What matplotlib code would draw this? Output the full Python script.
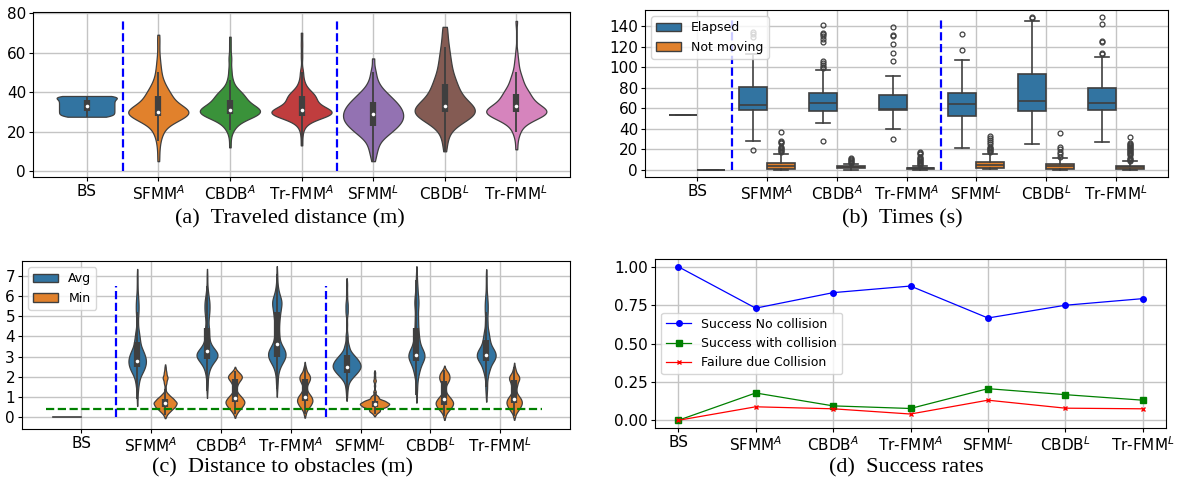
import numpy as np
import matplotlib
matplotlib.use("Agg")
import matplotlib.pyplot as plt
from matplotlib import mlab
from matplotlib.patches import Patch

methods = ["BS", "SFMM$^A$", "CBDB$^A$", "Tr-FMM$^A$", "SFMM$^L$", "CBDB$^L$", "Tr-FMM$^L$"]

# (a) traveled distance, values (m) and how often they show up
trav_vals = [
    [27.5, 28.5, 29.5, 30.5, 31.5, 32.5, 33.5, 34.5, 35.5, 36.5, 37.5, 38.0],
    [5, 10, 15, 20, 25, 28, 30, 32, 35, 38, 41, 45, 50, 55, 60, 65, 69],
    [12, 17, 21, 24, 27, 29, 31, 33, 36, 39, 42, 46, 51, 57, 63, 68],
    [13, 18, 22, 25, 28, 30, 32, 35, 38, 41, 45, 50, 58, 64, 70],
    [5, 9, 13, 17, 20, 23, 26, 29, 32, 35, 38, 41, 45, 50, 57],
    [10, 15, 20, 24, 27, 30, 33, 36, 40, 44, 48, 53, 58, 63, 68, 73],
    [11, 16, 20, 24, 27, 30, 33, 36, 39, 42, 46, 50, 55, 60, 76],
]
trav_counts = [
    [3, 3, 3, 3, 3, 3, 3, 3, 3, 3, 3, 3],
    [1, 1, 2, 5, 12, 14, 18, 12, 10, 8, 7, 5, 3, 2, 1, 1, 1],
    [1, 1, 3, 6, 12, 18, 18, 14, 13, 11, 5, 3, 2, 2, 1, 1],
    [1, 1, 2, 5, 18, 22, 12, 11, 12, 6, 3, 2, 1, 1, 1],
    [1, 2, 3, 5, 8, 11, 13, 13, 12, 10, 7, 5, 3, 2, 1],
    [1, 2, 3, 6, 12, 18, 12, 10, 9, 7, 6, 5, 4, 3, 2, 2],
    [1, 1, 3, 5, 12, 24, 12, 9, 8, 6, 5, 3, 2, 1, 1],
]

# (b) times (s): box stats
elapsed_med = [53.5, 62.8, 65.0, 59.8, 64.7, 67.6, 65.0]
elapsed_q1 = [53.5, 58.3, 57.3, 58.6, 52.1, 57.0, 58.6]
elapsed_q3 = [53.5, 81.1, 74.7, 73.4, 75.3, 93.3, 79.8]
elapsed_lo = [53.5, 27.7, 45.4, 39.6, 21.2, 25.4, 26.7]
elapsed_hi = [53.5, 113.5, 97.5, 92.0, 106.9, 144.8, 110.0]
elapsed_fliers = [[], [19.6, 129.5, 132.5, 135.0],
                  [28.5, 99.5, 100.5, 102, 104, 106.5, 125, 128, 131, 132.5, 133.5, 141],
                  [30.5, 106, 114, 123, 131, 132, 139], [116.5, 133], [148, 149],
                  [113.5, 114.5, 124.5, 126, 142, 149]]
idle_med = [0, 3.5, 2.5, 1.3, 4.5, 3.5, 2.8]
idle_q1 = [0, 1.0, 1.5, 0.5, 2.0, 1.0, 1.0]
idle_q3 = [0, 7.1, 3.5, 2.0, 7.5, 5.5, 4.0]
idle_lo = [0, 0, 0.3, 0, 0.5, 0, 0]
idle_hi = [0, 15.4, 5.5, 4.0, 15.5, 11.5, 8.5]
idle_fliers = [[], [17, 18, 19, 20, 21, 22, 26, 27, 28, 37], [7, 8, 9, 10, 11, 12],
               [5, 6, 7, 8, 9, 10, 11, 12, 13, 15, 16, 17],
               [17, 18, 19, 20, 21, 22, 25, 27, 29, 31, 33], [13, 15, 17, 20, 22.5, 36],
               [9, 10, 11, 12, 14, 15, 16, 17, 18, 19, 20, 21, 22, 23, 24, 25, 26, 32]]

# (c) distance to obstacles (m), avg and min per run
avg_vals = [
    [0.0],
    [0.9, 1.4, 1.8, 2.2, 2.5, 2.8, 3.1, 3.4, 3.8, 4.2, 4.7, 5.2, 5.6, 6.0, 6.5, 7.0],
    [1.3, 1.7, 2.2, 2.6, 2.9, 3.1, 3.3, 3.6, 4.0, 4.4, 4.9, 5.3, 5.7, 6.1, 6.5, 7.0],
    [1.4, 1.8, 2.3, 2.7, 3.0, 3.3, 3.6, 4.0, 4.4, 4.8, 5.2, 5.6, 5.9, 6.3, 6.7, 7.1],
    [1.1, 1.5, 1.9, 2.2, 2.5, 2.8, 3.1, 3.5, 4.0, 4.6, 5.2, 5.6, 6.1, 6.6],
    [1.1, 1.5, 2.0, 2.4, 2.8, 3.1, 3.4, 3.8, 4.2, 4.6, 5.0, 5.5, 5.9, 6.4, 6.8, 7.1],
    [1.1, 1.5, 2.0, 2.4, 2.8, 3.1, 3.4, 3.8, 4.2, 4.7, 5.2, 5.6, 6.0, 6.5, 7.0],
]
avg_counts = [
    [5],
    [1, 2, 4, 9, 13, 15, 12, 8, 6, 4, 2, 3, 3, 2, 1, 1],
    [1, 2, 4, 9, 14, 16, 12, 7, 5, 5, 4, 6, 6, 3, 1, 1],
    [1, 2, 4, 9, 15, 14, 6, 5, 4, 5, 7, 9, 7, 3, 1, 1],
    [1, 2, 6, 14, 20, 16, 9, 4, 2, 1, 2, 2, 1, 1],
    [1, 2, 4, 8, 14, 17, 10, 7, 5, 4, 4, 5, 5, 3, 1, 1],
    [1, 2, 3, 7, 13, 16, 11, 7, 5, 3, 3, 3, 2, 1, 1],
]
min_vals = [
    [],
    [0.1, 0.3, 0.5, 0.7, 0.9, 1.1, 1.4, 1.7, 1.95, 2.2, 2.45],
    [0.15, 0.35, 0.55, 0.75, 0.95, 1.15, 1.45, 1.7, 1.9, 2.05, 2.2, 2.3],
    [0.15, 0.4, 0.6, 0.8, 1.0, 1.2, 1.45, 1.7, 1.9, 2.1, 2.35, 2.55],
    [0.15, 0.3, 0.5, 0.65, 0.8, 1.0, 1.25, 1.55, 1.8, 2.0, 2.2],
    [0.05, 0.3, 0.5, 0.7, 0.9, 1.1, 1.4, 1.7, 1.9, 2.1, 2.25, 2.35],
    [0.05, 0.3, 0.5, 0.7, 0.9, 1.1, 1.35, 1.6, 1.85, 2.05, 2.3, 2.5],
]
min_counts = [
    [],
    [2, 7, 13, 16, 11, 5, 1, 2, 4, 2, 1],
    [2, 6, 11, 14, 10, 5, 3, 5, 8, 8, 4, 1],
    [2, 5, 10, 13, 11, 6, 4, 6, 9, 8, 3, 1],
    [2, 8, 16, 20, 14, 6, 2, 1, 2, 1, 1],
    [2, 6, 11, 14, 10, 5, 3, 5, 8, 7, 3, 1],
    [2, 6, 10, 13, 11, 6, 4, 6, 9, 8, 3, 1],
]
safety_dist = 0.37

# (d) success rates
success_clean = [1.0, 0.730, 0.831, 0.874, 0.666, 0.749, 0.792]
success_coll = [0.0, 0.178, 0.094, 0.077, 0.206, 0.167, 0.131]
failure_coll = [0.0, 0.088, 0.075, 0.041, 0.131, 0.079, 0.075]

GRAY = "#3f3f3f"
pal = ["#3274a1", "#e1812c", "#3a923a", "#c03d3e", "#9372b2", "#845b53", "#d684bd"]
# widest point of each violin in (c), in x units
avg_width = [0.4, 0.25, 0.3, 0.25, 0.4, 0.23, 0.27]
min_width = [0.4, 0.33, 0.27, 0.22, 0.42, 0.25, 0.22]


def kde_curve(vals, counts, bw, cut):
    data = np.repeat(vals, counts).astype(float)
    kde = mlab.GaussianKDE(data, bw)
    h = bw * data.std(ddof=1)
    y = np.linspace(data.min() - cut * h, data.max() + cut * h, 300)
    d = kde.evaluate(y)
    return data, y, d / d.max()


def draw_violin(ax, pos, data, y, dens, color):
    ax.fill_betweenx(y, pos - dens, pos + dens, facecolor=color, edgecolor=GRAY, lw=0.9, zorder=2)
    q1, med, q3 = np.percentile(data, [25, 50, 75])
    iqr = q3 - q1
    lo = data[data >= q1 - 1.5 * iqr].min()
    hi = data[data <= q3 + 1.5 * iqr].max()
    ax.plot([pos, pos], [lo, hi], color=GRAY, lw=1.3, zorder=3, solid_capstyle="butt")
    ax.plot([pos, pos], [q1, q3], color=GRAY, lw=4.5, zorder=3, solid_capstyle="butt")
    ax.plot(pos, med, marker="o", ms=2.6, mew=0, color="white", zorder=4)


def style(ax):
    ax.grid(True, color="#c4c4c4", lw=1.0)
    ax.set_axisbelow(True)
    ax.tick_params(labelsize=11, length=3, pad=2)
    ax.set_xticks(range(len(methods)), methods)


W, H = 1178, 487
def place(l, t, r, b):
    return [l / W, 1 - b / H, (r - l) / W, (b - t) / H]


fig = plt.figure(figsize=(11.78, 4.87), dpi=100)
ax_a = fig.add_axes(place(33, 12, 570, 177))
ax_b = fig.add_axes(place(645, 10, 1168, 177))
ax_c = fig.add_axes(place(22, 261, 570, 429))
ax_d = fig.add_axes(place(655, 259, 1166, 428))

# ---- (a) violins, each scaled to same width
for i in range(len(methods)):
    data, y, d = kde_curve(trav_vals[i], trav_counts[i], 0.3, 0)
    draw_violin(ax_a, i, data, y, d * 0.42, pal[i])
ax_a.vlines([0.5, 3.5], 0, 77, colors="blue", linestyles="--", lw=1.6, zorder=3)
style(ax_a)
ax_a.set_xlim(-0.75, 6.75)
ax_a.set_ylim(-3, 80.5)
ax_a.set_yticks([0, 20, 40, 60, 80])

# ---- (b) boxplots
def stats(med, q1, q3, lo, hi, fl):
    return [dict(med=med[k], q1=q1[k], q3=q3[k], whislo=lo[k], whishi=hi[k], fliers=fl[k])
            for k in range(len(med))]

x = np.arange(len(methods))
for st, off, col in [(stats(elapsed_med, elapsed_q1, elapsed_q3, elapsed_lo, elapsed_hi, elapsed_fliers), -0.2, pal[0]),
                     (stats(idle_med, idle_q1, idle_q3, idle_lo, idle_hi, idle_fliers), 0.2, pal[1])]:
    ax_b.bxp(st, positions=x + off, widths=0.4, capwidths=0.2, patch_artist=True, manage_ticks=False,
             boxprops=dict(facecolor=col, edgecolor=GRAY, lw=1.2),
             whiskerprops=dict(color=GRAY, lw=1.2), capprops=dict(color=GRAY, lw=1.2),
             medianprops=dict(color=GRAY, lw=1.2),
             flierprops=dict(marker="o", mfc="none", mec=GRAY, ms=3.5, mew=0.9))
ax_b.vlines([0.5, 3.5], 0, 149, colors="blue", linestyles="--", lw=1.6, zorder=3)
style(ax_b)
ax_b.set_xlim(-0.75, 6.75)
ax_b.set_ylim(-7, 156)
ax_b.set_yticks(range(0, 141, 20))
ax_b.legend([Patch(facecolor=pal[0], edgecolor=GRAY), Patch(facecolor=pal[1], edgecolor=GRAY)],
            ["Elapsed", "Not moving"], loc="upper left", fontsize=9)

# ---- (c) violins with hue
for i in range(len(methods)):
    for vals, cnts, off, col, wd in [(avg_vals[i], avg_counts[i], -0.2, pal[0], avg_width[i]),
                                     (min_vals[i], min_counts[i], 0.2, pal[1], min_width[i])]:
        if len(vals) == 0:
            continue
        if len(vals) == 1:
            ax_c.plot([i + off - wd / 2, i + off + wd / 2], [vals[0]] * 2, color=GRAY, lw=1.2, zorder=2)
            continue
        data, y, d = kde_curve(vals, cnts, 0.2, 1.5)
        draw_violin(ax_c, i + off, data, y, d * wd / 2, col)
ax_c.plot([-0.5, 6.6], [safety_dist, safety_dist], color="green", ls="--", lw=1.6, zorder=5)
ax_c.vlines([0.5, 3.5], 0, 6.5, colors="blue", linestyles="--", lw=1.6, zorder=3)
style(ax_c)
ax_c.set_xlim(-0.85, 7.0)
ax_c.set_ylim(-0.6, 7.75)
ax_c.set_yticks(range(0, 8))
ax_c.legend([Patch(facecolor=pal[0], edgecolor=GRAY), Patch(facecolor=pal[1], edgecolor=GRAY)],
            ["Avg", "Min"], loc="upper left", fontsize=9)

# ---- (d) success rates
ax_d.plot(x, success_clean, "o-", color="blue", ms=4, lw=0.9, label="Success No collision")
ax_d.plot(x, success_coll, "s-", color="green", ms=4, lw=0.9, label="Success with collision")
ax_d.plot(x, failure_coll, "x-", color="red", ms=3.5, lw=0.9, label="Failure due Collision")
style(ax_d)
ax_d.set_yticks([0, 0.25, 0.5, 0.75, 1.0])
ax_d.legend(loc="center left", fontsize=9)

cap = dict(ha="center", va="center", fontsize=16, family="Liberation Serif")
fig.text(290 / W, 1 - 219 / H, "(a)  Traveled distance (m)", **cap)
fig.text(902 / W, 1 - 219 / H, "(b)  Times (s)", **cap)
fig.text(282 / W, 1 - 468 / H, "(c)  Distance to obstacles (m)", **cap)
fig.text(906 / W, 1 - 468 / H, "(d)  Success rates", **cap)

fig.savefig("out.png", dpi=100)
